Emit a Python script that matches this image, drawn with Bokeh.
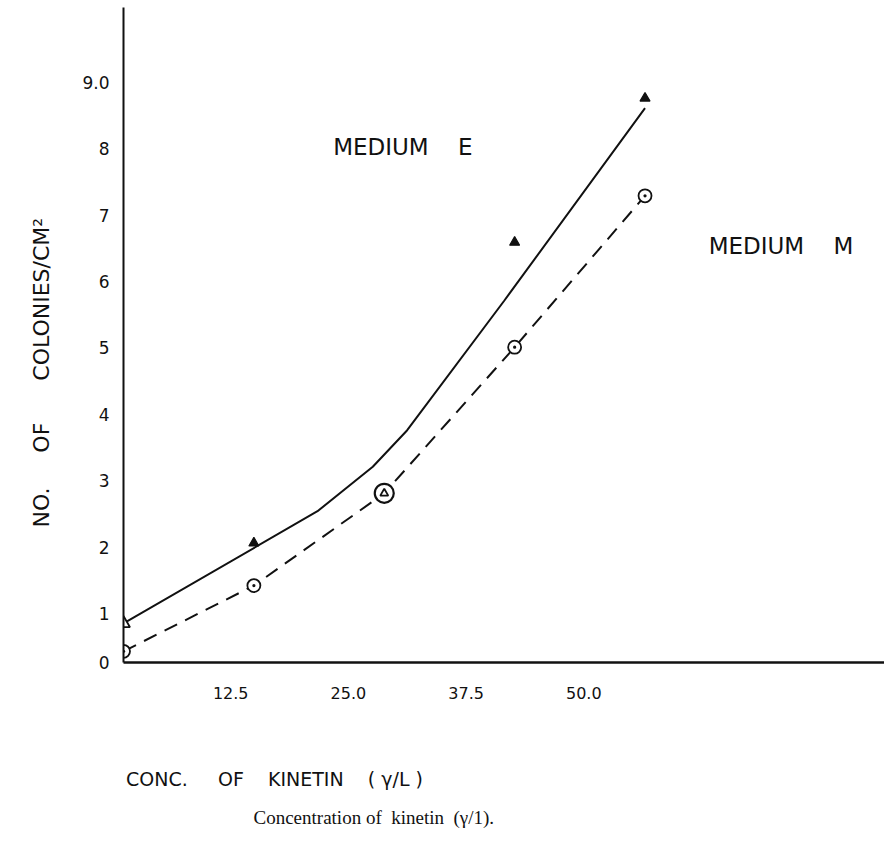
from bokeh.plotting import figure
from bokeh.models import Range1d, LinearAxis, FixedTicker, Label, Title
from bokeh.embed import file_html
from bokeh.resources import INLINE

# ---- data ----
conc = [0, 12.5, 25, 37.5, 50]                 # kinetin concentration (gamma/L)
medium_e = [0.85, 2.06, 2.81, 6.59, 8.76]      # triangles, MEDIUM E
medium_m = [0.43, 1.42, 2.81, 5.01, 7.29]      # circles, MEDIUM M
# hand-fitted solid curve for MEDIUM E
curve_e_x = [0, 18.6, 23.9, 27.2, 36.5, 50.0]
curve_e_y = [0.85, 2.54, 3.21, 3.76, 5.71, 8.61]

y_bottom = 0.262                                # where the x axis is drawn (origin corner)
y_ticks = [y_bottom, 1, 2, 3, 4, 5, 6, 7, 8, 9]
y_tick_labels = {y_bottom: "0", 9: "9.0"}
x_ticks = [12.5, 25, 37.5, 50]
x_tick_labels = {12.5: "12.5", 25: "25.0", 37.5: "37.5", 50: "50.0"}

INK = "#111111"
SANS = "DejaVu Sans"
NB = "\u00a0"

p = figure(width=884, height=843,
           x_range=Range1d(0, 72.96), y_range=Range1d(y_bottom, 10.126),
           output_backend="svg", toolbar_location=None, title=None,
           x_axis_location=None,
           min_border_left=123, min_border_right=0,
           min_border_top=7, min_border_bottom=181)
p.outline_line_color = None
p.xgrid.visible = False
p.ygrid.visible = False
p.background_fill_color = "white"
p.border_fill_color = "white"

# y axis
ya = p.yaxis[0]
ya.ticker = FixedTicker(ticks=y_ticks)
ya.major_label_overrides = y_tick_labels
ya.axis_line_color = INK
ya.axis_line_width = 2
ya.major_tick_in = 0
ya.major_tick_out = 0
ya.minor_tick_line_color = None
ya.major_label_standoff = 14
ya.major_label_text_font = SANS
ya.major_label_text_font_size = "17px"
ya.major_label_text_color = INK

# x axis (tick labels placed as lettered on the original sheet)
p.extra_x_ranges = {"labels": Range1d(1.115, 81.94)}
xa = LinearAxis(x_range_name="labels", ticker=FixedTicker(ticks=x_ticks))
xa.major_label_overrides = x_tick_labels
xa.axis_line_color = INK
xa.axis_line_width = 2.5
xa.major_tick_in = 0
xa.major_tick_out = 0
xa.minor_tick_line_color = None
xa.major_label_standoff = 24
xa.major_label_text_font = SANS
xa.major_label_text_font_size = "16px"
xa.major_label_text_color = INK
# the lettered axis title starts at the origin; trailing no-break spaces keep it there
conc_label = "CONC." + NB * 5 + "OF" + NB * 4 + "KINETIN" + NB * 4 + "(" + NB + "γ/L" + NB + ")"
xa.axis_label = conc_label + NB * 76
xa.axis_label_standoff = 66
xa.axis_label_text_font = SANS
xa.axis_label_text_font_size = "19px"
xa.axis_label_text_font_style = "normal"
xa.axis_label_text_color = INK
p.add_layout(xa, "below")

p.add_layout(Title(text="Concentration" + NB + "of" + NB + NB + "kinetin" + NB + NB + "(γ/1).",
                   align="left", offset=130, text_font="Liberation Serif",
                   text_font_size="19px", text_font_style="normal",
                   text_color=INK, standoff=24), "below")
p.add_layout(Title(text="NO." + NB * 5 + "OF" + NB * 6 + "COLONIES/CM²",
                   align="left", offset=135, text_font=SANS, text_font_size="22px",
                   text_font_style="normal", text_color=INK, standoff=52), "left")

# lines
p.line(curve_e_x, curve_e_y, line_color=INK, line_width=2)
p.line(conc, medium_m, line_color=INK, line_width=2, line_dash="14 9")

# circles (MEDIUM M)
idx = [0, 1, 3, 4]
p.scatter([conc[i] for i in idx], [medium_m[i] for i in idx], marker="circle_dot",
          size=13, fill_color="white", line_color=INK, line_width=1.8)
p.scatter([conc[2]], [medium_m[2]], marker="circle", size=19,
          fill_color="white", line_color=INK, line_width=2.2)

# triangles (MEDIUM E)
p.scatter([conc[0]], [medium_e[0]], marker="triangle", size=13,
          fill_color="white", line_color=INK, line_width=1.8)
idx = [1, 3, 4]
p.scatter([conc[i] for i in idx], [medium_e[i] for i in idx], marker="triangle",
          size=10, fill_color=INK, line_color=INK, line_width=1.2)
p.scatter([conc[2]], [medium_e[2]], marker="triangle", size=8,
          fill_color="white", line_color=INK, line_width=1.8)

# annotations
p.add_layout(Label(x=20.1, y=8.02, text="MEDIUM" + NB * 4 + "E", text_baseline="middle",
                   text_font=SANS, text_font_size="23px", text_color=INK))
p.add_layout(Label(x=56.1, y=6.54, text="MEDIUM" + NB * 4 + "M", text_baseline="middle",
                   text_font=SANS, text_font_size="23px", text_color=INK))

open("out.html", "w").write(file_html(p, INLINE))
